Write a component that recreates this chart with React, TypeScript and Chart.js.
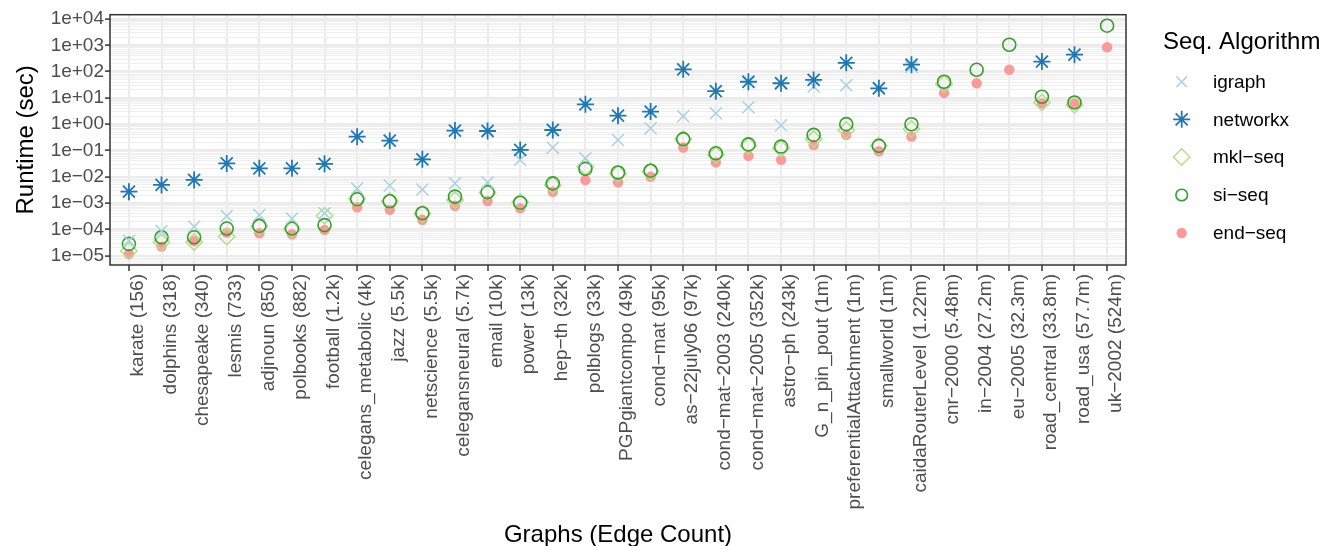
import React, { useEffect, useRef } from "react";
import { Chart, registerables } from "chart.js";

Chart.register(...registerables);

// ---------- data ----------
const categories: string[] = [
  "karate (156)", "dolphins (318)", "chesapeake (340)", "lesmis (733)", "adjnoun (850)",
  "polbooks (882)", "football (1.2k)", "celegans_metabolic (4k)", "jazz (5.5k)", "netscience (5.5k)",
  "celegansneural (5.7k)", "email (10k)", "power (13k)", "hep−th (32k)", "polblogs (33k)",
  "PGPgiantcompo (49k)", "cond−mat (95k)", "as−22july06 (97k)", "cond−mat−2003 (240k)", "cond−mat−2005 (352k)",
  "astro−ph (243k)", "G_n_pin_pout (1m)", "preferentialAttachment (1m)", "smallworld (1m)", "caidaRouterLevel (1.22m)",
  "cnr−2000 (5.48m)", "in−2004 (27.2m)", "eu−2005 (32.3m)", "road_central (33.8m)", "road_usa (57.7m)",
  "uk−2002 (524m)",
];

const igraph: (number | null)[] = [
  3.7e-5, 8.7e-5, 1.25e-4, 3.2e-4, 3.5e-4, 2.6e-4, 4.1e-4, 3.6e-3, 4.6e-3, 3.3e-3,
  5.6e-3, 6.0e-3, 4.4e-2, 0.128, 5.0e-2, 0.25, 0.7, 2.0, 2.6, 4.4,
  0.9, 27, 30, 25, 150, null, null, null, null, null, null,
];

const networkx: (number | null)[] = [
  2.7e-3, 4.9e-3, 7.6e-3, 3.2e-2, 2.1e-2, 2.1e-2, 3.1e-2, 0.335, 0.236, 4.6e-2,
  0.57, 0.55, 0.105, 0.6, 5.7, 2.1, 3.0, 122, 18, 41,
  36, 48, 215, 23, 183, null, null, null, 240, 440, null,
];

const mklSeq: (number | null)[] = [
  1.5e-5, 3.2e-5, 3.3e-5, 5.3e-5, 1.3e-4, 1.0e-4, 3.3e-4, 1.5e-3, 1.2e-3, 3.9e-4,
  1.3e-3, 2.5e-3, 1.1e-3, 4.8e-3, 2.4e-2, 1.3e-2, 1.6e-2, 0.27, 6.8e-2, 0.15,
  0.12, 0.27, 0.6, 0.15, 0.66, 34, null, null, 6.7, 5.5, null,
];

const siSeq: (number | null)[] = [
  2.8e-5, 5.0e-5, 5.0e-5, 1.07e-4, 1.35e-4, 1.07e-4, 1.45e-4, 1.4e-3, 1.17e-3, 4.1e-4,
  1.75e-3, 2.6e-3, 1.03e-3, 5.6e-3, 2.0e-2, 1.45e-2, 1.7e-2, 0.27, 7.8e-2, 0.17,
  0.14, 0.39, 1.0, 0.15, 0.99, 41, 117, 1050, 11, 6.7, 5560,
];

const endSeq: (number | null)[] = [
  1.15e-5, 2.2e-5, 3.6e-5, 7.5e-5, 7.1e-5, 6.5e-5, 9.5e-5, 6.9e-4, 5.5e-4, 2.3e-4,
  7.9e-4, 1.2e-3, 6.3e-4, 2.7e-3, 7.4e-3, 6.2e-3, 1.0e-2, 0.13, 3.5e-2, 6.2e-2,
  4.4e-2, 0.16, 0.39, 0.093, 0.335, 15.4, 36, 117, 6.2, 6.2, 840,
];

const yTickValues: number[] = [1e4, 1e3, 1e2, 1e1, 1e0, 1e-1, 1e-2, 1e-3, 1e-4, 1e-5];
const yTickLabels: string[] = [
  "1e+04", "1e+03", "1e+02", "1e+01", "1e+00", "1e−01", "1e−02", "1e−03", "1e−04", "1e−05",
];

const seriesNames: string[] = ["igraph", "networkx", "mkl−seq", "si−seq", "end−seq"];
const seriesColors: string[] = ["#a6cee3", "#1f78b4", "#b2df8a", "#33a02c", "#fb9a99"];

const legendTitle = "Seq. Algorithm";
const xTitle = "Graphs (Edge Count)";
const yTitle = "Runtime (sec)";

// ---------- styling ----------
const FONT = "'Liberation Sans', Arial, Helvetica, sans-serif";
const Y_MIN = 4.4e-6;
const Y_MAX = 14570;

const isDecade = (v: number) => {
  const l = Math.log10(v);
  return Math.abs(l - Math.round(l)) < 1e-6;
};

const toPoints = (vals: (number | null)[]) =>
  vals
    .map((v, i) => (v == null ? null : { x: i, y: v }))
    .filter((p) => p !== null) as { x: number; y: number }[];

type Marker = { style: string; radius: number; width: number; fill: boolean };
const markers: Marker[] = [
  { style: "crossRot", radius: 8.5, width: 1.4, fill: false },
  { style: "star", radius: 8.5, width: 1.8, fill: false },
  { style: "rectRot", radius: 8.2, width: 1.5, fill: false },
  { style: "circle", radius: 6.5, width: 1.6, fill: false },
  { style: "circle", radius: 5.2, width: 0, fill: true },
];

function drawMarker(ctx: CanvasRenderingContext2D, m: Marker, color: string, x: number, y: number) {
  const r = m.radius;
  ctx.save();
  ctx.strokeStyle = color;
  ctx.fillStyle = color;
  ctx.lineWidth = m.width;
  ctx.beginPath();
  if (m.style === "crossRot") {
    const d = r * Math.SQRT1_2;
    ctx.moveTo(x - d, y - d);
    ctx.lineTo(x + d, y + d);
    ctx.moveTo(x - d, y + d);
    ctx.lineTo(x + d, y - d);
    ctx.stroke();
  } else if (m.style === "star") {
    const d = r * Math.SQRT1_2;
    ctx.moveTo(x - r, y);
    ctx.lineTo(x + r, y);
    ctx.moveTo(x, y - r);
    ctx.lineTo(x, y + r);
    ctx.moveTo(x - d, y - d);
    ctx.lineTo(x + d, y + d);
    ctx.moveTo(x - d, y + d);
    ctx.lineTo(x + d, y - d);
    ctx.stroke();
  } else if (m.style === "rectRot") {
    ctx.moveTo(x - r, y);
    ctx.lineTo(x, y - r);
    ctx.lineTo(x + r, y);
    ctx.lineTo(x, y + r);
    ctx.closePath();
    ctx.stroke();
  } else {
    ctx.arc(x, y, r, 0, Math.PI * 2);
    if (m.fill) ctx.fill();
    else ctx.stroke();
  }
  ctx.restore();
}

const panelAndLegend = {
  id: "panelAndLegend",
  afterDraw(chart: any) {
    const { ctx, chartArea } = chart;
    ctx.save();
    ctx.strokeStyle = "#333333";
    ctx.lineWidth = 1.5;
    ctx.strokeRect(chartArea.left, chartArea.top, chartArea.right - chartArea.left, chartArea.bottom - chartArea.top);

    // legend
    ctx.fillStyle = "#000000";
    ctx.font = `24px ${FONT}`;
    ctx.textAlign = "left";
    ctx.textBaseline = "alphabetic";
    ctx.fillText(legendTitle, 1163, 48.5);
    const ys = [81.7, 119.3, 157, 195, 233];
    ctx.font = `19px ${FONT}`;
    ctx.textBaseline = "middle";
    seriesNames.forEach((name, i) => {
      const lm = { ...markers[i], radius: i === 0 ? 7.5 : i === 3 ? 5.8 : markers[i].radius };
      drawMarker(ctx, lm, seriesColors[i], 1181.7, ys[i]);
      ctx.fillStyle = "#000000";
      ctx.fillText(name, 1213, ys[i] + 1);
    });
    ctx.restore();
  },
};

const seriesData = [igraph, networkx, mklSeq, siSeq, endSeq];
const drawOrder = [2, 1, 4, 3, 5];

export default function App() {
  const ref = useRef<HTMLCanvasElement>(null);

  useEffect(() => {
    if (!ref.current) return;
    const datasets = seriesData.map((vals, i) => ({
      label: seriesNames[i],
      data: toPoints(vals),
      pointStyle: markers[i].style as any,
      pointRadius: markers[i].radius,
      pointBorderWidth: markers[i].width,
      pointBorderColor: seriesColors[i],
      pointBackgroundColor: markers[i].fill ? seriesColors[i] : "rgba(0,0,0,0)",
      borderColor: seriesColors[i],
      backgroundColor: markers[i].fill ? seriesColors[i] : "rgba(0,0,0,0)",
      showLine: false,
      order: drawOrder[i],
    }));

    const chart = new Chart(ref.current, {
      type: "scatter",
      data: { datasets },
      options: {
        animation: false,
        responsive: true,
        maintainAspectRatio: false,
        layout: { padding: { top: 14.7, right: 196, bottom: 0, left: 0 } },
        plugins: {
          legend: { display: false },
          tooltip: { enabled: false },
          title: { display: false },
        },
        scales: {
          x: {
            type: "linear",
            min: -0.58,
            max: 30.58,
            bounds: "data",
            afterBuildTicks: (scale: any) => {
              scale.ticks = categories.map((_, i) => ({ value: i }));
            },
            afterFit: (scale: any) => {
              scale.height = 281;
            },
            ticks: {
              autoSkip: false,
              minRotation: 90,
              maxRotation: 90,
              padding: 3,
              labelOffset: 9,
              color: "#4d4d4d",
              font: { family: FONT, size: 19 },
              callback: (v: any) => categories[Math.round(Number(v))] ?? "",
            },
            grid: {
              offset: false,
              color: "#ebebeb",
              lineWidth: 2,
              tickColor: "#333333",
              tickWidth: 1.5,
              tickLength: 6,
              drawTicks: true,
            },
            border: { display: false },
            title: {
              display: true,
              text: xTitle,
              color: "#000000",
              font: { family: FONT, size: 24 },
              padding: { top: 0, bottom: -4 },
            },
          },
          y: {
            type: "logarithmic",
            min: Y_MIN,
            max: Y_MAX,
            bounds: "data",
            afterBuildTicks: (scale: any) => {
              const t: { value: number; major: boolean }[] = [];
              for (let e = -6; e <= 4; e++) {
                for (let k = 1; k <= 9; k++) {
                  const v = k * Math.pow(10, e);
                  if (v >= Y_MIN && v <= Y_MAX) t.push({ value: v, major: k === 1 });
                }
              }
              scale.ticks = t;
            },
            afterFit: (scale: any) => {
              scale.width = 110;
            },
            ticks: {
              autoSkip: false,
              padding: 1,
              color: "#4d4d4d",
              font: { family: FONT, size: 19 },
              callback: (v: any) => {
                const n = Number(v);
                const idx = yTickValues.findIndex((tv) => Math.abs(Math.log10(tv) - Math.log10(n)) < 1e-6);
                return idx >= 0 ? yTickLabels[idx] : "";
              },
            },
            grid: {
              color: (c: any) => (c.tick && isDecade(c.tick.value) ? "#ebebeb" : "#efefef"),
              lineWidth: (c: any) => (c.tick && isDecade(c.tick.value) ? 2.2 : 1),
              tickColor: (c: any) => (c.tick && isDecade(c.tick.value) ? "#333333" : "rgba(0,0,0,0)"),
              tickWidth: 1.5,
              tickLength: 5,
              drawTicks: true,
            },
            border: { display: false },
            title: {
              display: true,
              text: yTitle,
              color: "#000000",
              font: { family: FONT, size: 24 },
              padding: { top: 11.5, bottom: 0 },
            },
          },
        },
      },
      plugins: [panelAndLegend],
    });
    return () => chart.destroy();
  }, []);

  return (
    <div style={{ position: "absolute", left: 0, top: 0, width: 1322, height: 546, background: "#ffffff" }}>
      <canvas ref={ref} />
    </div>
  );
}
